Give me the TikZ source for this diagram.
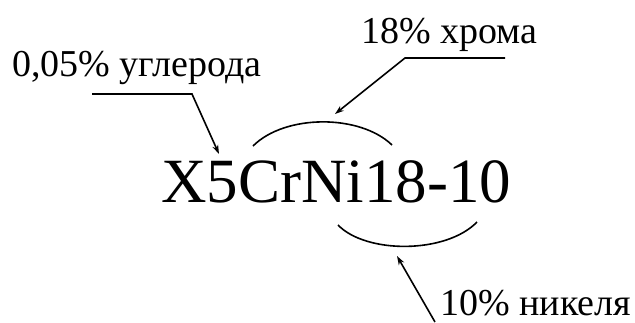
\documentclass[tikz,border=0pt]{standalone}
\usepackage{fontspec}
\setmainfont{Liberation Serif}
\usepackage{tikz}
\usetikzlibrary{calc, positioning, arrows.meta}

\tikzset{
  lbl/.style={anchor=base west, inner sep=0pt, font=\fontsize{38}{41}\selectfont},
  grd/.style={anchor=base west, inner sep=0pt, font=\fontsize{63}{67}\selectfont},
  lead/.style={line width=1.6pt, -{Stealth[length=9pt, width=6pt]}},
  brace/.style={line width=1.6pt}
}

\begin{document}
\begin{tikzpicture}[x=1pt, y=-1pt]
  \useasboundingbox (0,0) rectangle (635,322);

  % Steel grade and the three labels
  \node[grd] (grade) at (161,202) {X5CrNi18-10};
  \node[lbl] (carbon) at (12,76) {0,05\% углерода};
  \node[lbl] (chrome) at (361,43) {18\% хрома};
  \node[lbl] (nickel) at (440,315) {10\% никеля};

  % Bends and tips of the leaders
  \coordinate (carbonA) at (92,94);
  \coordinate (carbonB) at (192,94);
  \coordinate (carbonT) at (219,154);
  \coordinate (chromeA) at (505,58);
  \coordinate (chromeB) at (405,58);
  \coordinate (chromeT) at (335,114);
  \coordinate (nickelA) at (435,322);
  \coordinate (nickelT) at (397,256);

  % Arcs over Cr and under 10
  \coordinate (crL) at (253,146);
  \coordinate (crR) at (392,145);
  \coordinate (niL) at (338,225);
  \coordinate (niR) at (477,222);
  \draw[brace] (crL) .. controls (285,114) and (360,114) .. (crR);
  \draw[brace] (niL) .. controls (366,254) and (446,254) .. (niR);

  % Leaders
  \draw[lead] (carbonA) -- (carbonB) -- (carbonT);
  \draw[lead] (chromeA) -- (chromeB) -- (chromeT);
  \draw[lead] (nickelA) -- (nickelT);
\end{tikzpicture}
\end{document}
